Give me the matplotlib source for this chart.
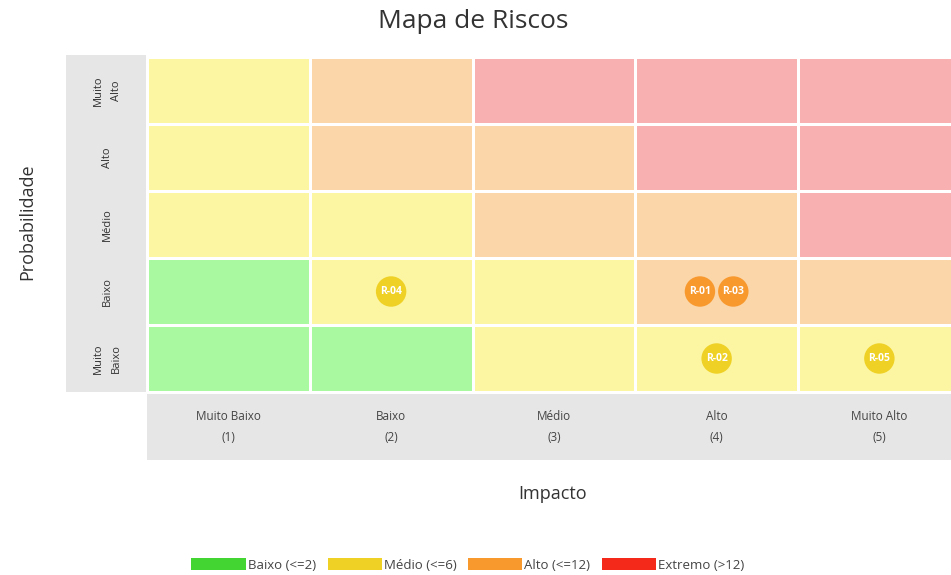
import matplotlib
matplotlib.use('Agg')
import matplotlib.pyplot as plt
import numpy as np
from matplotlib.patches import Rectangle, Patch
from matplotlib.colors import ListedColormap

plt.rcParams['font.family'] = ['Open Sans', 'DejaVu Sans']

impact_labels = ['Muito Baixo\n(1)', 'Baixo\n(2)', 'Médio\n(3)', 'Alto\n(4)', 'Muito Alto\n(5)']
prob_labels = ['Muito\nBaixo', 'Baixo', 'Médio', 'Alto', 'Muito\nAlto']

# risk level of each cell, rows from Muito Baixo (bottom) to Muito Alto (top)
# 0 = Baixo, 1 = Médio, 2 = Alto, 3 = Extremo
cell_levels = [
    [0, 0, 1, 1, 1],
    [0, 1, 1, 2, 2],
    [1, 1, 2, 2, 3],
    [1, 2, 2, 3, 3],
    [1, 2, 3, 3, 3],
]

legend_labels = ['Baixo (<=2)', 'Médio (<=6)', 'Alto (<=12)', 'Extremo (>12)']
legend_colors = ['#43d633', '#efd125', '#f8992e', '#f5291a']
cell_colors = ['#a9f9a1', '#fcf6a2', '#fbd6a9', '#f8b0b0']

risk_ids = ['R-01', 'R-02', 'R-03', 'R-04', 'R-05']
risk_impact = [4, 4, 4, 2, 5]
risk_prob = [2, 1, 2, 2, 1]
risk_level = [2, 1, 2, 1, 1]

fig = plt.figure(figsize=(9.51, 5.75), dpi=100)
ax = fig.add_axes([147 / 951, 1 - 392 / 575, 804 / 951, 335 / 575])

ax.pcolormesh(np.arange(6) - 0.5, np.arange(6) - 0.5, np.array(cell_levels),
              cmap=ListedColormap(cell_colors), vmin=-0.5, vmax=3.5,
              edgecolors='white', linewidth=0.8)
ax.set_xlim(-0.5, -0.5 + 804 / 162.75)
ax.set_ylim(-0.5, 4.5)
ax.axis('off')

# grey label bands
ax.add_patch(Rectangle((-81 / 804, 0), 80 / 804, 1.006, transform=ax.transAxes,
                       facecolor='#e6e6e6', edgecolor='none', clip_on=False, zorder=0))
ax.add_patch(Rectangle((0, -68 / 335), 1.0, 66 / 335, transform=ax.transAxes,
                       facecolor='#e6e6e6', edgecolor='none', clip_on=False, zorder=0))

for i, lab in enumerate(prob_labels):
    ax.text(-40 / 804, (i + 0.5) / 5, lab, transform=ax.transAxes, rotation=90,
            ha='center', va='center', fontsize=8, color='#333333', linespacing=1.9)
for i, lab in enumerate(impact_labels):
    ax.text(i, -0.5 - 35 / 67, lab, ha='center', va='center', fontsize=8.5,
            color='#444444', linespacing=1.8, clip_on=False)

# risks, spread out when several share a cell
cells = {}
for k in range(len(risk_ids)):
    cells.setdefault((risk_impact[k], risk_prob[k]), []).append(k)
for (imp, prob), members in cells.items():
    n = len(members)
    for j, k in enumerate(sorted(members, key=lambda m: risk_ids[m])):
        x = imp - 1 + (j - (n - 1) / 2) * 0.205
        y = prob - 1
        ax.scatter([x], [y], s=480, color=legend_colors[risk_level[k]], zorder=3,
                   edgecolors='none')
        ax.text(x, y, risk_ids[k], ha='center', va='center', fontsize=7.5,
                color='white', fontweight='bold', zorder=4)

fig.text(473 / 951, 1 - 22 / 575, 'Mapa de Riscos', ha='center', va='center',
         fontsize=19, color='#333333')
fig.text(553 / 951, 1 - 494 / 575, 'Impacto', ha='center', va='center',
         fontsize=13, color='#333333')
fig.text(27 / 951, 1 - 222 / 575, 'Probabilidade', ha='center', va='center',
         fontsize=13, color='#333333', rotation=90)

handles = [Patch(facecolor=c, edgecolor='none') for c in legend_colors]
fig.legend(handles, legend_labels, loc='center', bbox_to_anchor=(468 / 951, 1 - 565 / 575),
           ncol=4, frameon=False, fontsize=9.5, handlelength=4.1, handleheight=1.0,
           handletextpad=0.15, columnspacing=0.9, labelcolor='#444444')

fig.savefig('out.png', dpi=100)
